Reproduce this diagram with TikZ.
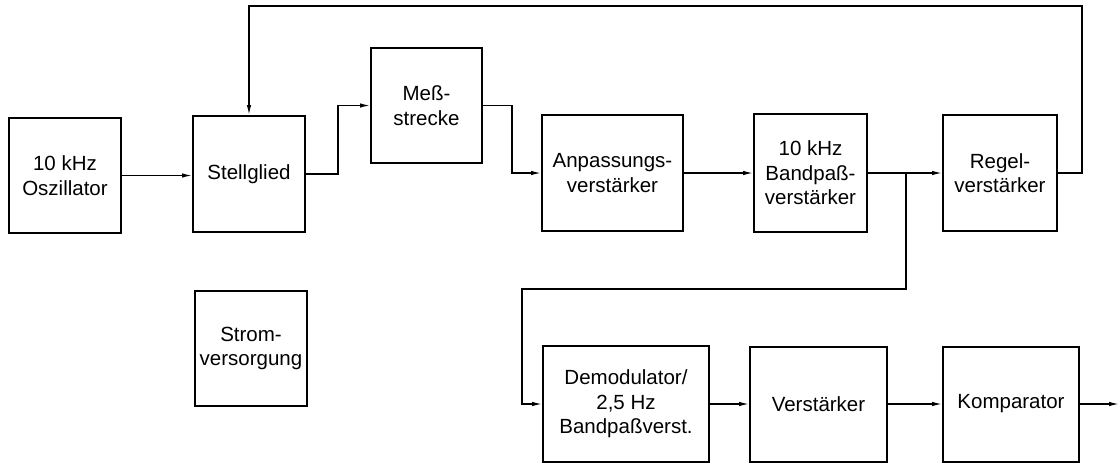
\documentclass[tikz,border=0pt]{standalone}
\usepackage{fontspec}
\setmainfont{Liberation Sans}
\usetikzlibrary{arrows.meta}
\tikzset{
  blk/.style={draw=black, line width=2pt, inner sep=0pt, align=center,
    font=\fontsize{20.5}{24.5}\selectfont},
  conn/.style={draw=black, line width=1.3pt},
  arr/.style={conn, -{Latex[length=10pt,width=4.5pt]}}
}
\begin{document}
\begin{tikzpicture}[x=1pt,y=-1pt]
\useasboundingbox (0,0) rectangle (1120,464);
% boxes
\node[blk, minimum width=112pt, minimum height=115pt] (osc) at (65,175.5) {10 kHz\\Oszillator};
\node[blk, minimum width=112pt, minimum height=116pt] (stell) at (249,174) {Stellglied};
\node[blk, minimum width=111pt, minimum height=115pt] (mess) at (426.5,105.5) {Meß-\\strecke};
\node[blk, minimum width=141pt, minimum height=116pt] (anp) at (612.5,173) {Anpassungs-\\verstärker};
\node[blk, minimum width=113pt, minimum height=118pt] (bp) at (810.5,173) {10 kHz\\Bandpaß-\\verstärker};
\node[blk, minimum width=114pt, minimum height=116pt] (regel) at (1000,173) {Regel-\\verstärker};
\node[blk, minimum width=112pt, minimum height=115pt] (strom) at (251,348.5) {Strom-\\versorgung};
\node[blk, minimum width=166pt, minimum height=116pt] (demod) at (626,404) {Demodulator/\\2,5 Hz\\Bandpaßverst.};
\node[blk, minimum width=137pt, minimum height=115pt] (verst) at (818.5,404) {Verstärker};
\node[blk, minimum width=136pt, minimum height=115pt] (komp) at (1011,404) {Komparator};
% helper coordinates
\coordinate (b1) at (338,174);
\coordinate (b2) at (512,105.5);
\coordinate (br) at (906,173);
\coordinate (b3) at (906,289);
\coordinate (b4) at (522,289);
\coordinate (b5) at (1082,173);
\coordinate (b6) at (1082,6);
\coordinate (out) at (1119,404);
% connectors
\draw[arr] (osc.east) -- (osc.east -| stell.west);
\draw[arr] (stell.east) -- (b1) |- (mess.west);
\draw[arr] (mess.east) -- (b2) |- (anp.west);
\draw[arr] (anp.east) -- (anp.east -| bp.west);
\draw[arr] (bp.east) -- (bp.east -| regel.west);
\draw[arr] (br) -- (b3) -- (b4) |- (demod.west);
\draw[arr] (regel.east) -- (b5) -- (b6) -| (stell.north);
\draw[arr] (demod.east) -- (demod.east -| verst.west);
\draw[arr] (verst.east) -- (verst.east -| komp.west);
\draw[arr] (komp.east) -- (out);
\end{tikzpicture}
\end{document}
